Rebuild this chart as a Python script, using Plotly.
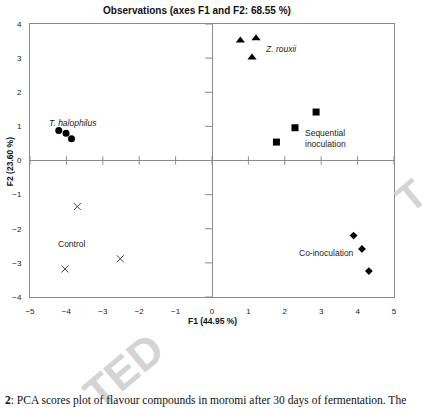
import plotly.graph_objects as go

# ---- data (F1, F2 observation scores) ----
zr_f1 = [0.78, 1.21, 1.10]
zr_f2 = [3.52, 3.58, 3.02]
seq_f1 = [2.86, 2.28, 1.77]
seq_f2 = [1.42, 0.96, 0.54]
th_f1 = [-4.21, -4.01, -3.86]
th_f2 = [0.88, 0.80, 0.64]
ctl_f1 = [-3.70, -2.52, -4.04]
ctl_f2 = [-1.35, -2.88, -3.18]
co_f1 = [3.89, 4.12, 4.31]
co_f2 = [-2.20, -2.59, -3.24]

x_ticks = list(range(-5, 6))
y_ticks = list(range(-4, 5))

FONT = "Arial, Liberation Sans, sans-serif"
GRAY = "#8a8a8a"

fig = go.Figure()

def add(x, y, symbol, size, color="black", line=None):
    m = dict(symbol=symbol, size=size, color=color)
    if line:
        m["line"] = line
    fig.add_trace(go.Scatter(x=x, y=y, mode="markers", marker=m,
                             showlegend=False, hoverinfo="skip"))

# cross ticks on the horizontal zero line
fig.add_trace(go.Scatter(x=x_ticks, y=[0] * len(x_ticks), mode="markers",
                         marker=dict(symbol="line-ns-open", size=6, color=GRAY,
                                     line=dict(color=GRAY, width=1)),
                         showlegend=False, hoverinfo="skip"))
# left-pointing ticks on the vertical zero line
tick_len = 0.19  # in F1 units (~7 px)
vx, vy = [], []
for t in y_ticks:
    vx += [-tick_len, 0, None]
    vy += [t, t, None]
fig.add_trace(go.Scatter(x=vx, y=vy, mode="lines", line=dict(color=GRAY, width=1),
                         showlegend=False, hoverinfo="skip"))

add(zr_f1, zr_f2, "triangle-up", 8)
add(seq_f1, seq_f2, "square", 7)
add(th_f1, th_f2, "circle", 7)
add(ctl_f1, ctl_f2, "x-thin-open", 7, color="#444", line=dict(color="#444", width=1))
add(co_f1, co_f2, "diamond", 6)

labels = [
    (1.40, 3.27, "<i>Z. rouxii</i>"),
    (-4.54, 1.11, "<i>T. halophilus</i>"),
    (2.49, 0.65, "Sequential<br>inoculation"),
    (-4.29, -2.45, "Control"),
    (2.33, -2.72, "Co-inoculation"),
]
for lx, ly, t in labels:
    fig.add_annotation(x=lx, y=ly, text=t, showarrow=False, xanchor="left",
                       yanchor="middle", align="left",
                       font=dict(family=FONT, size=8.5, color="#222"))

# axis titles
fig.add_annotation(xref="paper", yref="paper", x=0.5, y=(297 - 321) / 273,
                   text="<b>F1 (44.95 %)</b>", showarrow=False,
                   xanchor="center", yanchor="middle",
                   font=dict(family=FONT, size=8.5, color="#111"))
fig.add_annotation(xref="paper", yref="paper", x=(7 - 27) / 367, y=(297 - 162) / 273,
                   text="<b>F2 (23.60 %)</b>", showarrow=False, textangle=-90,
                   xanchor="center", yanchor="middle",
                   font=dict(family=FONT, size=8.5, color="#111"))

# watermark fragments
for wx, wy, t, fs in [(121, 370, "TED", 44), (411, 196, "T", 40)]:
    fig.add_annotation(xref="paper", yref="paper", x=(wx - 27) / 367, y=(297 - wy) / 273,
                       text="<b>" + t + "</b>", showarrow=False, textangle=-40,
                       xanchor="center", yanchor="middle",
                       font=dict(family=FONT, size=fs, color="#d4d4d4"))

# caption
fig.add_annotation(xref="paper", yref="paper", x=(0 - 27) / 367, y=(297 - 400) / 273,
                   text="<b>2</b>: PCA scores plot of flavour compounds in moromi after 30 days of fermentation. The",
                   showarrow=False, xanchor="left", yanchor="middle",
                   font=dict(family="Liberation Serif, Times New Roman, serif", size=11.5, color="#111"))

axis_common = dict(showgrid=False, zeroline=True, zerolinecolor=GRAY, zerolinewidth=1,
                   showline=True, linecolor=GRAY, linewidth=1, mirror=True,
                   ticks="", tickfont=dict(family=FONT, size=8, color="#222"))

fig.update_layout(
    width=433, height=409,
    margin=dict(l=27, r=39, t=24, b=112),
    paper_bgcolor="white", plot_bgcolor="white",
    title=dict(text="<b>Observations (axes F1 and F2: 68.55 %)</b>",
               x=197 / 433, xref="container", xanchor="center",
               y=1 - 10 / 409, yref="container", yanchor="middle",
               font=dict(family=FONT, size=10, color="#111")),
    xaxis=dict(range=[-5, 5], tickvals=x_ticks, ticklabelstandoff=6, **axis_common),
    yaxis=dict(range=[-4, 4], tickvals=y_ticks, ticklabelstandoff=6, **axis_common),
)

fig.write_html("out.html")
